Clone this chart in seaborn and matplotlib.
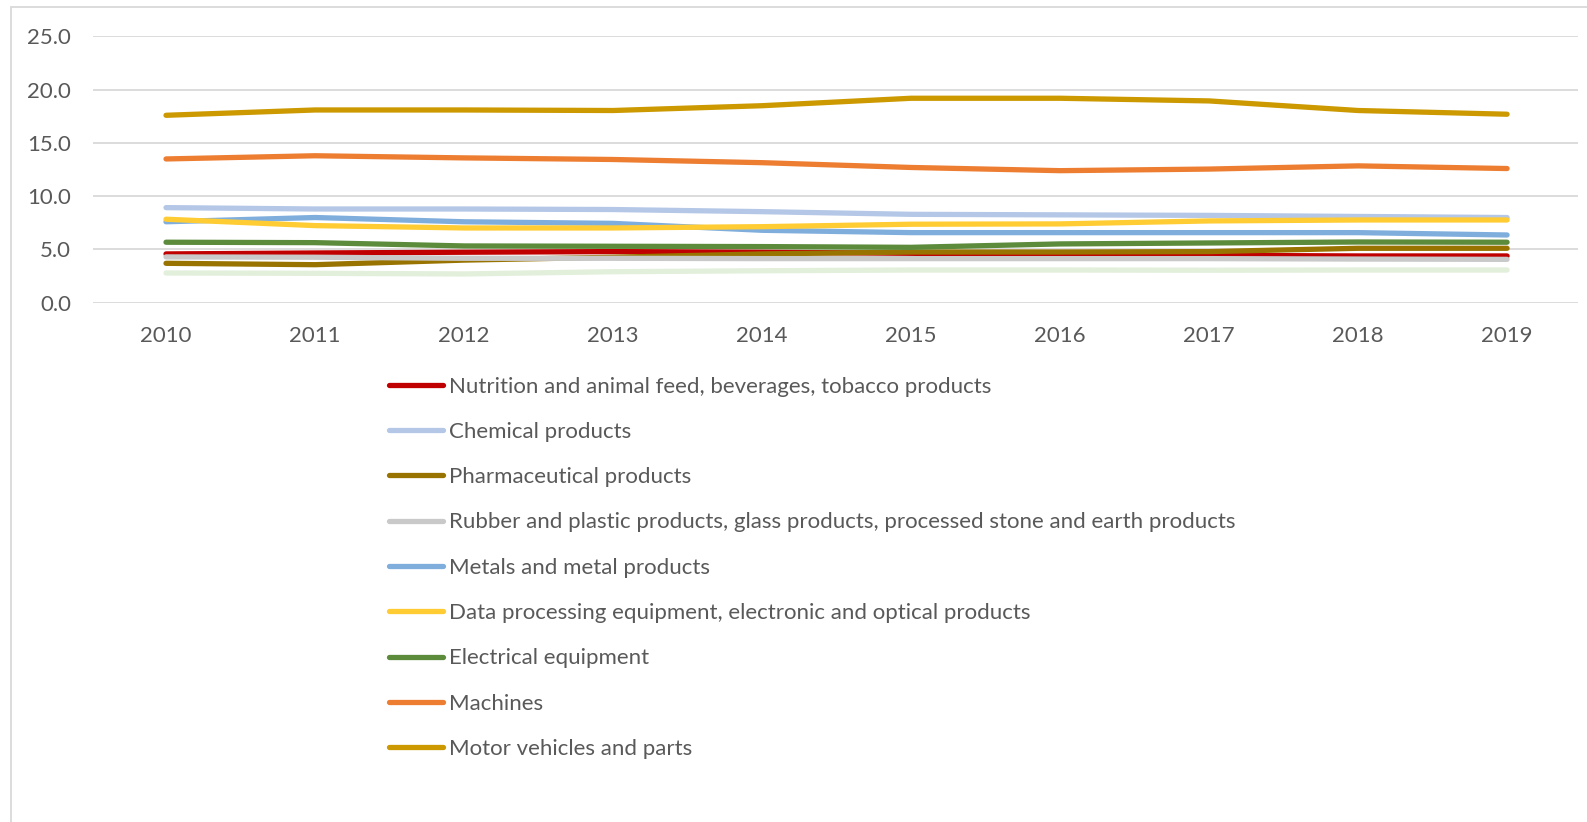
import matplotlib
matplotlib.use("Agg")
import matplotlib.pyplot as plt
import seaborn as sns
import numpy as np
from matplotlib.patches import Rectangle

years = ["2010", "2011", "2012", "2013", "2014", "2015", "2016", "2017", "2018", "2019"]

nutrition = [4.58, 4.67, 4.74, 4.80, 4.74, 4.64, 4.48, 4.45, 4.39, 4.39]
chemical = [8.93, 8.80, 8.80, 8.75, 8.55, 8.30, 8.25, 8.20, 8.10, 8.00]
pharma = [3.70, 3.57, 4.00, 4.27, 4.58, 4.76, 4.76, 4.80, 5.11, 5.11]
rubber = [4.30, 4.27, 4.17, 4.17, 4.14, 4.14, 4.14, 4.14, 4.10, 4.07]
metals = [7.60, 8.00, 7.60, 7.45, 6.80, 6.58, 6.58, 6.58, 6.58, 6.36]
dataproc = [7.84, 7.24, 7.02, 7.02, 7.14, 7.37, 7.40, 7.68, 7.77, 7.77]
electrical = [5.68, 5.64, 5.33, 5.30, 5.27, 5.20, 5.52, 5.61, 5.70, 5.68]
machines = [13.5, 13.8, 13.6, 13.45, 13.15, 12.7, 12.4, 12.55, 12.85, 12.6]
motor = [17.6, 18.1, 18.1, 18.05, 18.5, 19.2, 19.2, 18.95, 18.05, 17.7]
other = [2.79, 2.76, 2.70, 2.91, 3.00, 3.07, 3.07, 3.05, 3.07, 3.07]

labels = [
    "Nutrition and animal feed, beverages, tobacco products",
    "Chemical products",
    "Pharmaceutical products",
    "Rubber and plastic products, glass products, processed stone and earth products",
    "Metals and metal products",
    "Data processing equipment, electronic and optical products",
    "Electrical equipment",
    "Machines",
    "Motor vehicles and parts",
]
series = [nutrition, chemical, pharma, rubber, metals, dataproc, electrical, machines, motor]
colors = ["#C00000", "#B4C7E7", "#997300", "#C9C9C9", "#7FAEDD", "#FFCC33",
          "#5B8B3B", "#ED7D31", "#CC9900"]
other_color = "#E2EFDA"

yticks = [0, 5, 10, 15, 20, 25]

sns.set_theme(style="white")
plt.rcParams["font.family"] = ["Lato", "DejaVu Sans"]

W, H = 1587, 822
fig = plt.figure(figsize=(W / 100, H / 100), dpi=100)
fig.patches.append(Rectangle((11 / W, -0.1), 1.2, (1 - 7 / H) + 0.1,
                             transform=fig.transFigure, fill=False,
                             edgecolor="#D9D9D9", linewidth=1.3, zorder=0))

left, right, top, bottom = 93, 1578, 36.5, 302.7
ax = fig.add_axes([left / W, 1 - bottom / H, (right - left) / W, (bottom - top) / H])
x = np.arange(len(years))

lw = 3.8
sns.lineplot(x=x, y=other, color=other_color, linewidth=lw, label="_nolegend_",
             ax=ax, solid_capstyle="round", legend=False)
for vals, lab, col in zip(series, labels, colors):
    sns.lineplot(x=x, y=vals, color=col, linewidth=lw, label=lab, ax=ax,
                 solid_capstyle="round")

ax.set_xlim(-0.49, 9.476)
ax.set_ylim(0, 25)
ax.set_yticks(yticks)
ax.set_yticklabels([f"{v:.1f}" for v in yticks])
ax.set_xticks(x)
ax.set_xticklabels(years)
ax.yaxis.grid(True, color="#D9D9D9", linewidth=1.3)
ax.xaxis.grid(False)
for s in ax.spines.values():
    s.set_visible(False)
ax.tick_params(axis="both", length=0, labelsize=16, colors="#595959")
ax.tick_params(axis="y", pad=15.8)
ax.tick_params(axis="x", pad=17.0)
ax.set_xlabel("")
ax.set_ylabel("")

handles, labs = ax.get_legend_handles_labels()
if ax.get_legend():
    ax.get_legend().remove()
leg = fig.legend(handles, labs, loc="upper left",
                 bbox_to_anchor=(389 / W, 1 - 376.5 / H),
                 frameon=False, fontsize=16, handlelength=2.43,
                 handletextpad=0.27, labelspacing=1.14, borderaxespad=0,
                 borderpad=0)
for t in leg.get_texts():
    t.set_color("#595959")

fig.savefig("out.png", dpi=100, facecolor="white")
